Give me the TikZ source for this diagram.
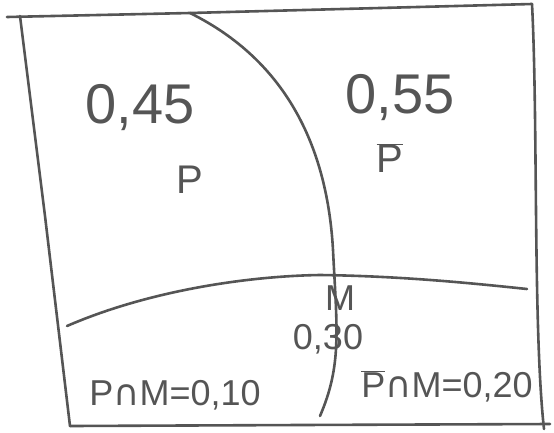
\documentclass[tikz,border=0pt]{standalone}
\usepackage{fontspec}
\setmainfont{Liberation Sans}
\newfontfamily\symfont{DejaVu Sans}
\definecolor{pencil}{HTML}{555555}
\newcommand{\capsym}{{\symfont ∩}}

\begin{document}
\begin{tikzpicture}[
  x=1pt, y=-1pt,
  stroke/.style={draw=pencil, line width=2.6pt, line cap=round, line join=round},
  bigtxt/.style={text=pencil, font=\fontsize{56}{60}\selectfont, inner sep=0pt},
  midtxt/.style={text=pencil, font=\fontsize{40}{44}\selectfont, inner sep=0pt},
  smalltxt/.style={text=pencil, font=\fontsize{36}{40}\selectfont, inner sep=0pt}
]
\useasboundingbox (0,0) rectangle (554,432);

% frame
\draw[stroke] (7,17) -- (190,13) -- (532,4);
\draw[stroke] (20,16) -- (45,216) -- (70,426);
\draw[stroke] (532,4) .. controls (538,120) and (533,330) .. (544,429);
\draw[stroke] (70,426) -- (300,425) -- (550,424);

% dividing curves
\draw[stroke] (190,13) .. controls (295,65) and (328,160) .. (333,250)
  .. controls (337,330) and (342,365) .. (320,416);
\draw[stroke] (67,326) .. controls (150,290) and (250,276) .. (320,275)
  .. controls (400,276) and (470,283) .. (527,289);

% labels
\node[bigtxt] (pval) at (140,108) {0,45};
\node[midtxt] (p) at (190,180) {P};
\node[bigtxt] (notpval) at (400,98) {0,55};
\node[midtxt] (notp) at (390,158) {$\overline{\vphantom{I}\mbox{\fontsize{40}{44}\selectfont P}}$};
\node[smalltxt] (m) at (340,298) {M};
\node[smalltxt] (mval) at (328,339) {0,30};
\node[smalltxt] (pm) at (175,395) {P\capsym M=0,10};
\node[smalltxt] (notpm) at (447,386) {$\overline{\mbox{\fontsize{36}{40}\selectfont P}}$\capsym M=0,20};

\end{tikzpicture}
\end{document}
